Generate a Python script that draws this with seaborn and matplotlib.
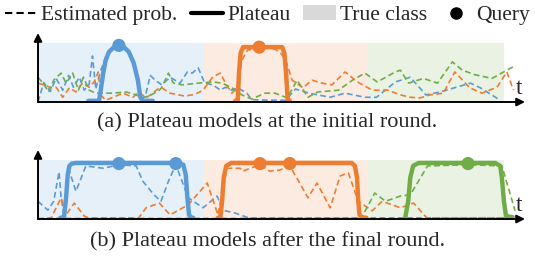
import numpy as np
import pandas as pd
import matplotlib
matplotlib.use("Agg")
import matplotlib.pyplot as plt
from matplotlib.lines import Line2D
from matplotlib.patches import Patch
import seaborn as sns

sns.set_theme(style="white")
plt.rcParams['font.family'] = ['Liberation Serif', 'DejaVu Serif']

blue, orange, green = "#5B9BD5", "#ED7D31", "#70AD47"

# true-class spans on the time axis
class_edges = [0, 20, 40, 56.5]
class_colors = [blue, orange, green]

# ---- (a) initial round ----
a_blue_t = [0, 0.7, 1.5, 2.2, 3.0, 3.7, 4.3, 5.0, 5.6, 6.2, 6.6, 7.0, 7.5, 8.2, 9.0, 9.8, 10.6, 11.4, 12.0, 12.4,
            13.0, 13.6, 14.2, 15.0, 16.0, 17.2, 18.1, 18.7, 19.4, 20.2, 21.2, 22.1, 22.7, 23.5, 24.2, 25.3, 25.9,
            28.0, 30.0, 31.2, 32.8, 35.4, 37.2, 39.6, 41.0, 43.3, 45.1, 47.0, 48.7, 52.4, 53.6, 56.0]
a_blue_v = [0.0, 0.33, 0.18, 0.4, 0.2, 0.45, 0.25, 0.42, 0.2, 0.3, 0.78, 0.22, 0.5, 0.75, 0.9, 0.95, 0.9, 0.75, 0.4, 0.05,
            0.1, 0.45, 0.37, 0.29, 0.42, 0.32, 0.51, 0.49, 0.58, 0.32, 0.29, 0.2, 0.25, 0.2, 0.24, 0.15, 0.04,
            0.03, 0.03, 0.22, 0.15, 0.08, 0.15, 0.08, 0.08, 0.34, 0.42, 0.12, 0.17, 0.32, 0.24, 0.03]

a_orange_t = [0, 0.7, 1.6, 2.2, 3.0, 3.8, 4.6, 5.4, 6.2, 6.8, 7.3, 7.6, 8.2, 9.1, 10.3, 11.5, 12.2, 13.1, 13.9, 14.7,
              15.0, 16.0, 17.8, 19.0, 20.0, 21.2, 22.1, 22.7, 23.5, 24.1, 24.7, 25.4, 27.2, 28.6, 29.3, 30.0,
              30.8, 32.1, 33.2, 34.4, 35.6, 37.2, 38.7, 40.5, 42.4, 43.9, 45.1, 46.3, 47.5, 49.1, 50.5, 52.3,
              53.8, 55.6, 56.8, 57.6]
a_orange_v = [0.32, 0.29, 0.24, 0.25, 0.08, 0.24, 0.17, 0.32, 0.25, 0.34, 0.51, 0.12, 0.03, 0.08, 0.15, 0.08, 0.17, 0.07, 0.15, 0.24,
              0.24, 0.15, 0.1, 0.13, 0.2, 0.43, 0.49, 0.32, 0.15, 0.24, 0.71, 0.88, 0.93, 0.9, 0.85, 0.71,
              0.37, 0.24, 0.37, 0.32, 0.29, 0.51, 0.34, 0.2, 0.2, 0.12, 0.08, 0.07, 0.12, 0.15, 0.51, 0.24,
              0.15, 0.25, 0.51, 0.2]

a_green_t = [0, 0.6, 1.3, 1.9, 2.8, 3.4, 4.2, 4.9, 5.5, 6.2, 7.0, 9.1, 10.7, 11.9, 12.7, 13.7, 14.7,
             15.0, 15.8, 16.4, 17.5, 19.4, 21.2, 22.3, 23.5, 24.7, 25.9, 27.5, 28.7, 30.2, 31.4, 32.7, 33.9,
             36.4, 38.1, 39.6, 41.1, 43.3, 43.9, 44.9, 46.7, 48.4, 50.2, 51.4, 53.0, 55.0, 57.6]
a_green_v = [0.42, 0.32, 0.17, 0.37, 0.49, 0.32, 0.49, 0.2, 0.42, 0.2, 0.15, 0.15, 0.17, 0.12, 0.07, 0.12, 0.2,
             0.25, 0.49, 0.32, 0.29, 0.32, 0.34, 0.32, 0.24, 0.12, 0.05, 0.15, 0.15, 0.07, 0.37, 0.08, 0.17,
             0.2, 0.37, 0.49, 0.34, 0.51, 0.54, 0.32, 0.4, 0.32, 0.68, 0.54, 0.46, 0.4, 0.6]

a_plat_blue_t = [6.1, 7.4, 7.6, 7.9, 8.2, 8.6, 9.2, 9.8, 10.4, 11.0, 11.6, 12.1, 12.4, 12.7, 13.9]
a_plat_blue_v = [0.02, 0.02, 0.2, 0.49, 0.71, 0.85, 0.93, 0.96, 0.93, 0.85, 0.66, 0.37, 0.08, 0.02, 0.02]
a_plat_orange_t = [23.9, 24.2, 24.35, 24.55, 24.85, 29.6, 29.85, 30.05, 30.25, 30.5]
a_plat_orange_v = [0.02, 0.02, 0.49, 0.83, 0.93, 0.93, 0.83, 0.49, 0.05, 0.02]
a_query_t = [9.8, 26.8]
a_query_v = [0.96, 0.93]
a_query_c = [blue, orange]

# ---- (b) final round ----
b_blue_t = [0, 1.2, 1.9, 2.55, 2.8, 3.15, 3.4, 3.8, 4.6, 5.8, 7.9, 9.8, 11.9, 12.7, 13.7, 14.2, 14.9, 15.8, 16.7,
            18.2, 20.0, 21.7, 22.4, 23.9, 25.5, 56.6]
b_blue_v = [0.3, 0.15, 0.3, 0.8, 0.36, 0.07, 0.47, 0.81, 0.47, 0.9, 0.86, 0.92, 0.9, 0.64, 0.47, 0.39, 0.3, 0.64, 0.92,
            0.36, 0.19, 0.39, 0.15, 0.1, 0.02, 0.02]
b_orange_t = [0, 1.6, 2.8, 3.4, 4.4, 5.6, 6.1, 12.2, 13.1, 14.7, 16.0, 18.2, 20.5, 21.8, 22.9, 24.5, 24.8, 25.7,
              26.9, 28.1, 29.3, 30.5, 31.5, 32.7, 33.8, 35.4, 36.6, 37.6, 38.8, 40.5, 41.7, 43.9, 45.5, 46.9,
              47.1, 56.6]
b_orange_v = [0.0, 0.02, 0.36, 0.07, 0.27, 0.05, 0.02, 0.02, 0.19, 0.27, 0.07, 0.24, 0.61, 0.07, 0.86, 0.86, 0.81, 0.86,
              0.92, 0.81, 0.83, 0.9, 0.66, 0.36, 0.61, 0.19, 0.73, 0.78, 0.3, 0.14, 0.3, 0.19, 0.27, 0.05,
              0.02, 0.02]
b_green_t = [0, 39.0, 39.3, 40.8, 42.1, 43.9, 45.1, 47.2, 52.1, 56.2, 57.8]
b_green_v = [0.01, 0.01, 0.05, 0.44, 0.3, 0.39, 0.41, 0.9, 0.92, 0.9, 0.14]

b_plat_blue_t = [2.7, 3.15, 3.4, 3.6, 3.8, 4.1, 4.6, 17.0, 17.6, 17.9, 18.1, 18.3, 18.5, 18.8]
b_plat_blue_v = [0.02, 0.03, 0.36, 0.75, 0.9, 0.94, 0.95, 0.95, 0.92, 0.75, 0.36, 0.07, 0.03, 0.02]
b_plat_orange_t = [21.8, 22.1, 22.3, 22.5, 22.8, 23.4, 38.0, 38.4, 38.65, 38.8, 38.95, 39.2, 39.8]
b_plat_orange_v = [0.02, 0.03, 0.3, 0.7, 0.9, 0.95, 0.95, 0.9, 0.7, 0.3, 0.07, 0.03, 0.02]
b_plat_green_t = [44.5, 44.85, 45.1, 45.45, 46.1, 55.4, 56.0, 56.2, 56.45, 56.7, 57.5]
b_plat_green_v = [0.03, 0.3, 0.7, 0.9, 0.95, 0.95, 0.9, 0.7, 0.3, 0.05, 0.03]
b_query_t = [9.8, 16.7, 26.9, 30.5, 52.1]
b_query_v = [0.94, 0.94, 0.94, 0.94, 0.94]
b_query_c = [blue, blue, orange, orange, green]

captions = ["(a) Plateau models at the initial round.", "(b) Plateau models after the final round."]

W, H = 535, 258
fig = plt.figure(figsize=(W / 100, H / 100), dpi=100)


def make_axes(base_px, top_px):
    ax = fig.add_axes([38 / W, 1 - base_px / H, (525 - 38) / W, (base_px - top_px) / H])
    ax.set_xlim(0, 59)
    ax.set_ylim(0, 1.17)
    for s in ax.spines.values():
        s.set_visible(False)
    ax.set_xticks([])
    ax.set_yticks([])
    ax.set_facecolor("none")
    for i in range(3):
        ax.axvspan(class_edges[i], class_edges[i + 1], ymin=0, ymax=1 / 1.17,
                   color=class_colors[i], alpha=0.15, lw=0)
    return ax


def draw_dash(ax, t, v, c):
    df = pd.DataFrame({"t": t, "v": v})
    sns.lineplot(data=df, x="t", y="v", ax=ax, color=c, lw=1.2, sort=False,
                 estimator=None, dashes=False, linestyle=(0, (3.5, 2)))


def draw_plat(ax, t, v, c):
    df = pd.DataFrame({"t": t, "v": v})
    sns.lineplot(data=df, x="t", y="v", ax=ax, color=c, lw=3.2, sort=False,
                 estimator=None, solid_joinstyle="round", solid_capstyle="round")


def finish(ax):
    ax.annotate("", xy=(1, 0), xytext=(0, 0), xycoords="axes fraction",
                arrowprops=dict(arrowstyle="-|>", color="black", lw=1.4, mutation_scale=12,
                                shrinkA=0, shrinkB=0))
    ax.annotate("", xy=(0, 1), xytext=(0, 0), xycoords="axes fraction",
                arrowprops=dict(arrowstyle="-|>", color="black", lw=1.4, mutation_scale=12,
                                shrinkA=0, shrinkB=0))
    ax.set_xlabel("")
    ax.set_ylabel("Prob.", fontsize=16, labelpad=2)
    ax.text(0.995, 0.04, "t", transform=ax.transAxes, fontsize=17, ha="right", va="bottom")


ax1 = make_axes(102, 33)
draw_dash(ax1, a_blue_t, a_blue_v, blue)
draw_dash(ax1, a_orange_t, a_orange_v, orange)
draw_dash(ax1, a_green_t, a_green_v, green)
draw_plat(ax1, a_plat_blue_t, a_plat_blue_v, blue)
draw_plat(ax1, a_plat_orange_t, a_plat_orange_v, orange)
ax1.scatter(a_query_t, a_query_v, c=a_query_c, s=90, zorder=5, lw=0)
finish(ax1)

ax2 = make_axes(219, 150)
draw_dash(ax2, b_blue_t, b_blue_v, blue)
draw_dash(ax2, b_orange_t, b_orange_v, orange)
draw_dash(ax2, b_green_t, b_green_v, green)
draw_plat(ax2, b_plat_blue_t, b_plat_blue_v, blue)
draw_plat(ax2, b_plat_orange_t, b_plat_orange_v, orange)
draw_plat(ax2, b_plat_green_t, b_plat_green_v, green)
ax2.scatter(b_query_t, b_query_v, c=b_query_c, s=90, zorder=5, lw=0)
finish(ax2)

fig.text(0.5, 1 - 123 / H, captions[0], ha="center", va="center", fontsize=16)
fig.text(0.5, 1 - 242 / H, captions[1], ha="center", va="center", fontsize=16)

handles = [Line2D([], [], color="black", lw=1.5, linestyle=(0, (3.5, 2))),
           Line2D([], [], color="black", lw=3),
           Patch(facecolor="#d9d9d9", edgecolor="none"),
           Line2D([], [], color="black", lw=0, marker="o", markersize=8)]
labels = ["Estimated prob.", "Plateau", "True class", "Query"]
fig.legend(handles, labels, loc="center", bbox_to_anchor=(0.5, 1 - 15 / H), ncol=4,
           frameon=False, fontsize=15.5, handlelength=1.5, handletextpad=0.2,
           columnspacing=0.6, borderaxespad=0, borderpad=0)

fig.savefig("out.png", dpi=100)
